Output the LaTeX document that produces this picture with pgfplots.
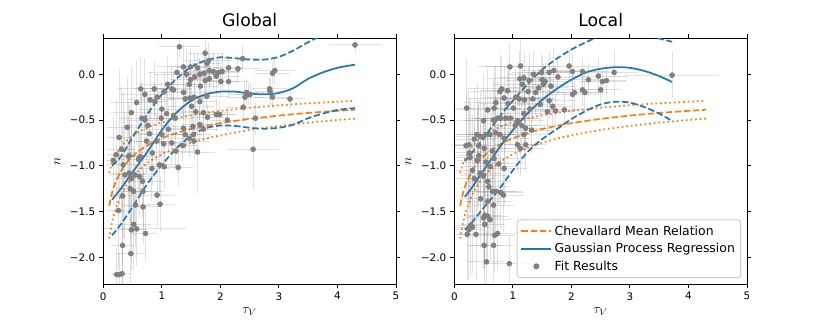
\documentclass[border=0pt]{standalone}
\usepackage{fontspec}
\setmainfont{DejaVu Sans}
\usepackage{pgfplots}
\usepackage{pgfplotstable}
\pgfplotsset{compat=1.18}
\definecolor{tabblue}{HTML}{1F77B4}
\definecolor{taborange}{HTML}{FF7F0E}
\definecolor{tabgray}{HTML}{808080}

% fit results, global photometry
\pgfplotstableread{
x y ex ey
1.30 0.30 0.35 0.12
1.74 0.23 0.30 0.15
1.80 0.15 0.40 0.20
1.77 0.12 0.25 0.18
1.37 0.08 0.45 0.25
1.49 0.08 0.30 0.20
1.26 0.02 0.50 0.30
1.61 0.07 0.35 0.15
1.72 0.01 0.40 0.22
1.81 0.04 0.30 0.18
1.88 0.03 0.45 0.20
1.97 0.02 0.35 0.15
2.03 0.03 0.30 0.20
2.14 0.07 0.25 0.12
2.30 0.06 0.40 0.15
1.42 0.00 0.55 0.28
1.49 -0.06 0.35 0.20
1.56 -0.03 0.30 0.25
1.65 0.00 0.45 0.18
1.74 -0.07 0.30 0.20
1.81 -0.05 0.25 0.15
1.93 -0.02 0.40 0.22
2.01 -0.08 0.30 0.18
2.14 -0.08 0.35 0.15
1.47 -0.11 0.40 0.25
1.66 -0.13 0.30 0.20
1.37 -0.20 0.45 0.30
1.17 -0.16 0.35 0.25
1.10 -0.11 0.50 0.30
1.04 -0.19 0.40 0.22
1.20 -0.17 0.30 0.20
0.64 -0.16 0.40 0.35
0.87 -0.16 0.35 0.30
0.71 -0.22 0.45 0.40
0.92 -0.25 0.30 0.25
0.80 -0.28 0.40 0.30
0.88 -0.30 0.25 0.20
0.57 -0.31 0.45 0.45
0.48 -0.42 0.35 0.50
1.40 -0.27 0.30 0.18
1.48 -0.26 0.35 0.20
1.55 -0.25 0.25 0.15
1.65 -0.30 0.30 0.20
1.77 -0.24 0.40 0.15
2.45 -0.20 0.30 0.15
2.51 -0.22 0.25 0.12
1.00 -0.38 0.40 0.30
1.08 -0.43 0.30 0.25
0.99 -0.48 0.35 0.28
1.51 -0.35 0.40 0.20
1.58 -0.41 0.30 0.18
1.71 -0.42 0.45 0.20
1.78 -0.47 0.30 0.15
1.93 -0.44 0.35 0.18
1.99 -0.44 0.25 0.15
2.12 -0.50 0.30 0.12
0.66 -0.48 0.40 0.40
0.71 -0.50 0.30 0.35
0.41 -0.58 0.35 0.55
0.76 -0.56 0.40 0.35
0.79 -0.65 0.30 0.30
1.20 -0.45 0.35 0.25
1.23 -0.48 0.30 0.22
1.11 -0.60 0.40 0.25
1.37 -0.59 0.30 0.20
1.53 -0.57 0.35 0.20
1.65 -0.55 0.30 0.18
1.71 -0.60 0.25 0.15
1.54 -0.66 0.30 0.20
1.47 -0.70 0.35 0.22
1.55 -0.73 0.25 0.18
1.40 -0.66 0.30 0.20
1.00 -0.66 0.40 0.30
0.91 -0.73 0.35 0.28
0.74 -0.73 0.45 0.35
1.03 -0.76 0.30 0.25
1.17 -0.75 0.35 0.22
1.24 -0.84 0.30 0.20
1.36 -0.78 0.25 0.18
0.27 -0.69 0.20 0.75
0.31 -0.82 0.25 0.70
0.22 -0.88 0.15 0.60
0.44 -0.89 0.30 0.55
0.63 -0.90 0.35 0.45
0.84 -0.86 0.40 0.35
0.17 -0.94 0.12 0.50
0.34 -0.99 0.30 0.80
0.43 -0.90 0.25 0.60
0.60 -0.93 0.35 0.45
0.83 -1.03 0.30 0.35
0.96 -0.99 0.35 0.30
1.04 -1.01 0.30 0.25
1.28 -1.02 0.25 0.20
0.37 -1.10 0.25 0.70
0.44 -1.08 0.30 0.55
0.54 -1.10 0.25 0.50
0.62 -1.12 0.30 0.45
0.67 -1.17 0.35 0.40
0.48 -1.14 0.30 0.60
0.46 -1.25 0.25 0.55
0.52 -1.28 0.30 0.50
0.68 -1.28 0.35 0.40
0.33 -1.33 0.20 0.75
0.92 -1.32 0.30 0.35
0.97 -1.42 0.25 0.30
0.68 -1.45 0.30 0.40
0.55 -1.43 0.25 0.45
0.26 -1.49 0.20 0.65
0.52 -1.64 0.30 0.50
0.48 -1.70 0.25 0.45
0.57 -1.69 0.85 0.40
0.72 -1.74 0.20 0.30
0.33 -1.87 0.20 0.55
0.47 -1.96 0.25 0.40
0.23 -2.19 0.10 0.30
0.27 -2.19 0.12 0.25
0.32 -2.18 0.15 0.30
1.61 -0.85 0.30 0.45
2.56 -0.82 0.45 0.45
4.30 0.32 0.45 0.08
2.38 0.17 0.35 0.15
2.89 0.01 0.30 0.12
2.93 0.04 0.35 0.15
2.84 -0.16 0.30 0.12
2.85 -0.19 0.25 0.15
2.89 -0.25 0.30 0.12
3.19 -0.27 0.25 0.10
2.42 -0.25 0.30 0.15
2.48 -0.22 0.35 0.12
2.39 -0.36 0.30 0.15
2.60 -0.48 0.25 0.18
}\globalpts

% fit results, local photometry
\pgfplotstableread{
x y ex ey
0.21 -0.37 0.15 0.55
0.95 0.08 0.55 0.25
1.13 0.09 0.60 0.30
1.35 0.00 0.45 0.25
1.49 0.02 0.50 0.20
1.62 0.02 0.40 0.22
1.70 0.04 0.55 0.25
1.77 -0.03 0.45 0.20
1.96 0.09 0.50 0.18
2.02 0.03 0.40 0.20
2.19 0.03 0.45 0.15
2.29 -0.06 0.35 0.18
2.46 -0.02 0.50 0.20
2.53 -0.08 0.40 0.15
2.60 -0.07 0.35 0.18
1.12 -0.05 0.55 0.30
1.19 -0.04 0.45 0.28
1.16 -0.11 0.50 0.25
1.28 -0.07 0.40 0.30
0.81 -0.16 0.60 0.35
0.78 -0.19 0.50 0.40
0.91 -0.18 0.45 0.30
1.26 -0.19 0.55 0.28
1.34 -0.27 0.40 0.25
1.44 -0.15 0.50 0.22
1.50 -0.06 0.45 0.25
1.55 -0.08 0.40 0.20
1.52 -0.11 0.35 0.22
1.65 -0.13 0.45 0.20
1.39 -0.20 0.50 0.25
1.05 -0.25 0.55 0.30
1.11 -0.27 0.45 0.28
1.20 -0.28 0.50 0.25
0.85 -0.26 0.60 0.35
0.71 -0.31 0.55 0.40
0.68 -0.37 0.45 0.45
0.92 -0.32 0.50 0.35
1.01 -0.37 0.45 0.30
1.47 -0.33 0.40 0.22
1.62 -0.29 0.45 0.20
1.68 -0.35 0.35 0.22
1.73 -0.40 0.40 0.20
1.59 -0.41 0.45 0.25
1.29 -0.38 0.50 0.28
1.19 -0.43 0.45 0.30
0.57 -0.39 0.55 0.45
0.74 -0.48 0.50 0.40
0.79 -0.48 0.45 0.35
0.88 -0.48 0.55 0.35
0.96 -0.48 0.50 0.30
1.08 -0.51 0.45 0.30
1.04 -0.56 0.40 0.28
1.15 -0.56 0.50 0.30
1.22 -0.59 0.45 0.25
1.32 -0.61 0.40 0.25
1.19 -0.66 0.45 0.28
0.67 -0.50 0.50 0.45
0.50 -0.51 0.45 0.50
0.39 -0.66 0.40 0.55
0.45 -0.68 0.45 0.50
0.54 -0.66 0.50 0.45
0.61 -0.66 0.40 0.45
0.71 -0.64 0.45 0.40
0.78 -0.66 0.50 0.40
0.85 -0.70 0.45 0.35
0.34 -0.71 0.35 0.55
0.25 -0.77 0.30 0.60
0.42 -0.78 0.40 0.50
0.51 -0.81 0.45 0.50
0.20 -0.78 0.25 0.55
0.26 -0.86 0.30 0.60
0.42 -0.89 0.35 0.55
0.65 -0.84 0.45 0.45
1.08 -0.77 0.40 0.30
1.22 -0.77 0.35 0.28
1.13 -0.81 0.40 0.30
1.88 -0.39 0.40 0.20
2.02 -0.22 0.45 0.22
2.05 -0.20 0.40 0.20
2.19 -0.17 0.35 0.18
2.23 -0.20 0.40 0.20
2.50 -0.17 0.35 0.18
2.73 0.02 0.40 0.25
3.72 -0.01 0.80 0.25
0.27 -0.91 0.30 0.60
0.39 -0.94 0.35 0.55
0.54 -0.96 0.40 0.50
0.61 -1.01 0.45 0.50
0.68 -0.92 0.40 0.45
0.76 -0.98 0.45 0.45
0.85 -1.03 0.40 0.40
0.31 -1.05 0.30 0.60
0.44 -1.08 0.35 0.55
0.50 -1.11 0.40 0.55
0.34 -1.14 0.35 0.60
0.57 -1.17 0.40 0.50
0.59 -1.23 0.35 0.50
0.65 -1.28 0.40 0.45
0.71 -1.28 0.45 0.45
0.79 -1.29 0.40 0.40
0.84 -1.32 0.35 0.40
0.45 -1.36 0.35 0.55
0.57 -1.39 0.40 0.50
0.67 -1.43 0.35 0.45
0.52 -1.54 0.30 0.50
0.57 -1.55 0.35 0.50
0.50 -1.57 0.30 0.55
0.61 -1.59 0.35 0.45
0.28 -1.65 0.25 0.55
0.31 -1.67 0.30 0.50
0.52 -1.64 0.35 0.50
0.25 -1.70 0.25 0.55
0.22 -1.75 0.20 0.50
0.37 -1.75 0.30 0.50
0.69 -1.76 0.35 0.40
0.51 -1.87 0.30 0.45
0.67 -1.87 0.35 0.40
0.55 -2.05 0.30 0.35
0.94 -2.07 0.40 0.30
0.74 -1.74 0.35 0.40
}\localpts

% Chevallard relation, mean and +-25% band
\pgfplotstableread{
x mean up lo
0.10 -1.437 -1.078 -1.796
0.15 -1.295 -0.971 -1.619
0.20 -1.196 -0.897 -1.495
0.30 -1.059 -0.795 -1.324
0.40 -0.966 -0.725 -1.208
0.50 -0.897 -0.673 -1.121
0.60 -0.842 -0.632 -1.053
0.80 -0.760 -0.570 -0.950
1.00 -0.700 -0.525 -0.875
1.25 -0.643 -0.482 -0.804
1.50 -0.599 -0.449 -0.749
1.75 -0.564 -0.423 -0.704
2.00 -0.534 -0.401 -0.668
2.50 -0.488 -0.366 -0.609
3.00 -0.452 -0.339 -0.565
3.50 -0.423 -0.318 -0.529
4.00 -0.400 -0.300 -0.500
4.30 -0.388 -0.291 -0.485
}\chev

% GP regression, global
\pgfplotstableread{
x mean up lo
0.15 -1.37 -1.00 -1.76
0.30 -1.25 -0.90 -1.64
0.50 -1.07 -0.69 -1.45
0.75 -0.85 -0.44 -1.20
1.00 -0.61 -0.22 -0.99
1.25 -0.42 -0.05 -0.81
1.50 -0.29 0.08 -0.67
1.75 -0.22 0.15 -0.59
2.00 -0.19 0.185 -0.56
2.25 -0.19 0.175 -0.565
2.50 -0.21 0.16 -0.585
2.75 -0.22 0.16 -0.595
3.00 -0.205 0.19 -0.585
3.25 -0.15 0.26 -0.55
3.50 -0.05 0.35 -0.48
3.75 0.02 0.43 -0.43
4.00 0.07 0.50 -0.39
4.30 0.105 0.57 -0.37
}\gpglobal

% GP regression, local
\pgfplotstableread{
x mean up lo
0.18 -1.34 -0.95 -1.70
0.30 -1.24 -0.86 -1.62
0.50 -1.05 -0.70 -1.46
0.75 -0.82 -0.48 -1.27
1.00 -0.61 -0.29 -1.05
1.25 -0.43 -0.11 -0.85
1.50 -0.28 0.05 -0.71
1.75 -0.16 0.17 -0.60
2.00 -0.06 0.27 -0.49
2.25 0.02 0.35 -0.40
2.50 0.06 0.42 -0.33
2.75 0.077 0.46 -0.30
3.00 0.07 0.46 -0.31
3.25 0.035 0.43 -0.36
3.50 -0.02 0.39 -0.43
3.72 -0.085 0.355 -0.51
}\gplocal

\pgfplotsset{
  panel/.style={
    width=253.9pt, height=213.4pt, scale only axis,
    xmin=0, xmax=5, ymin=-2.295, ymax=0.393,
    axis line style={line width=0.8pt, black},
    tick align=outside, major tick length=3.5pt,
    every tick/.style={line width=0.8pt, black},
    xtick={0,1,2,3,4,5}, xticklabels={0,1,2,3,4,5},
    ytick={-2,-1.5,-1,-0.5,0},
    yticklabels={−2.0,−1.5,−1.0,−0.5,0.0},
    tick label style={font=\fontsize{9}{11}\selectfont},
    xlabel={\fontsize{12}{14}\selectfont$\tau_V$},
    ylabel={\fontsize{12}{14}\selectfont$n$},
    every axis x label/.style={at={(axis description cs:0.5,0)}, anchor=base, yshift=-25pt},
    every axis y label/.style={at={(axis description cs:-0.157,0.5)}, anchor=center, rotate=90},
    title style={at={(axis description cs:0.5,1)}, anchor=base, yshift=4.5pt, font=\fontsize{15}{18}\selectfont},
    legend image code/.code={\draw[#1] (0pt,0pt) -- (26pt,0pt);},
  },
  chevmean/.style={taborange, line width=1.5pt, dash pattern=on 5.5pt off 2.4pt, smooth, tension=0.4},
  chevband/.style={taborange, line width=1.5pt, dash pattern=on 1.5pt off 2.5pt, smooth, tension=0.4},
  gpmean/.style={tabblue, line width=1.5pt, smooth, tension=0.5},
  gpband/.style={tabblue, line width=1.5pt, dash pattern=on 5.5pt off 2.4pt, smooth, tension=0.5},
  errs/.style={draw=none, mark=none,
    error bars/x dir=both, error bars/x explicit,
    error bars/y dir=both, error bars/y explicit,
    error bars/error mark=none,
    error bars/error bar style={line width=0.8pt, draw=black!55, opacity=0.22}},
  pts/.style={only marks, mark=*, mark size=2.2pt, color=tabgray,
    mark options={draw=none, fill=tabgray, sharp corners}},
}

\begin{document}
\begin{tikzpicture}
\path[use as bounding box] (0,0) rectangle (720pt,277.6pt);

\begin{axis}[panel, at={(89.6pt,31.0pt)}, anchor=south west, title={Global}]
\addplot[chevmean] table[x=x, y=mean] {\chev};
\addplot[chevband] table[x=x, y=up] {\chev};
\addplot[chevband] table[x=x, y=lo] {\chev};
\addplot[gpmean] table[x=x, y=mean] {\gpglobal};
\addplot[gpband] table[x=x, y=up] {\gpglobal};
\addplot[gpband] table[x=x, y=lo] {\gpglobal};
\addplot[errs] table[x=x, y=y, x error=ex, y error=ey] {\globalpts};
\addplot[pts] table[x=x, y=y] {\globalpts};
\end{axis}

\begin{axis}[panel, at={(394.1pt,31.0pt)}, anchor=south west, title={Local},
  legend style={at={(axis description cs:0.98,0.025)}, anchor=south east,
    draw=black!20, line width=0.8pt, rounded corners=2.5pt,
    fill=white, fill opacity=0.8, text opacity=1, draw opacity=1,
    font=\fontsize{10.8}{13}\selectfont, row sep=1.5pt,
    inner xsep=3pt, inner ysep=3pt},
  legend cell align=left]
\addplot[chevmean] table[x=x, y=mean] {\chev};
\addlegendentry{Chevallard Mean Relation}
\addplot[forget plot, chevband] table[x=x, y=up] {\chev};
\addplot[forget plot, chevband] table[x=x, y=lo] {\chev};
\addplot[gpmean] table[x=x, y=mean] {\gplocal};
\addlegendentry{Gaussian Process Regression}
\addplot[forget plot, gpband] table[x=x, y=up] {\gplocal};
\addplot[forget plot, gpband] table[x=x, y=lo] {\gplocal};
\addplot[forget plot, errs] table[x=x, y=y, x error=ex, y error=ey] {\localpts};
\addplot[pts, legend image code/.code={\fill[tabgray, sharp corners, fill opacity=1] (13pt,0pt) circle[radius=2.2pt];}] table[x=x, y=y] {\localpts};
\addlegendentry{Fit Results}
\end{axis}
\end{tikzpicture}
\end{document}
